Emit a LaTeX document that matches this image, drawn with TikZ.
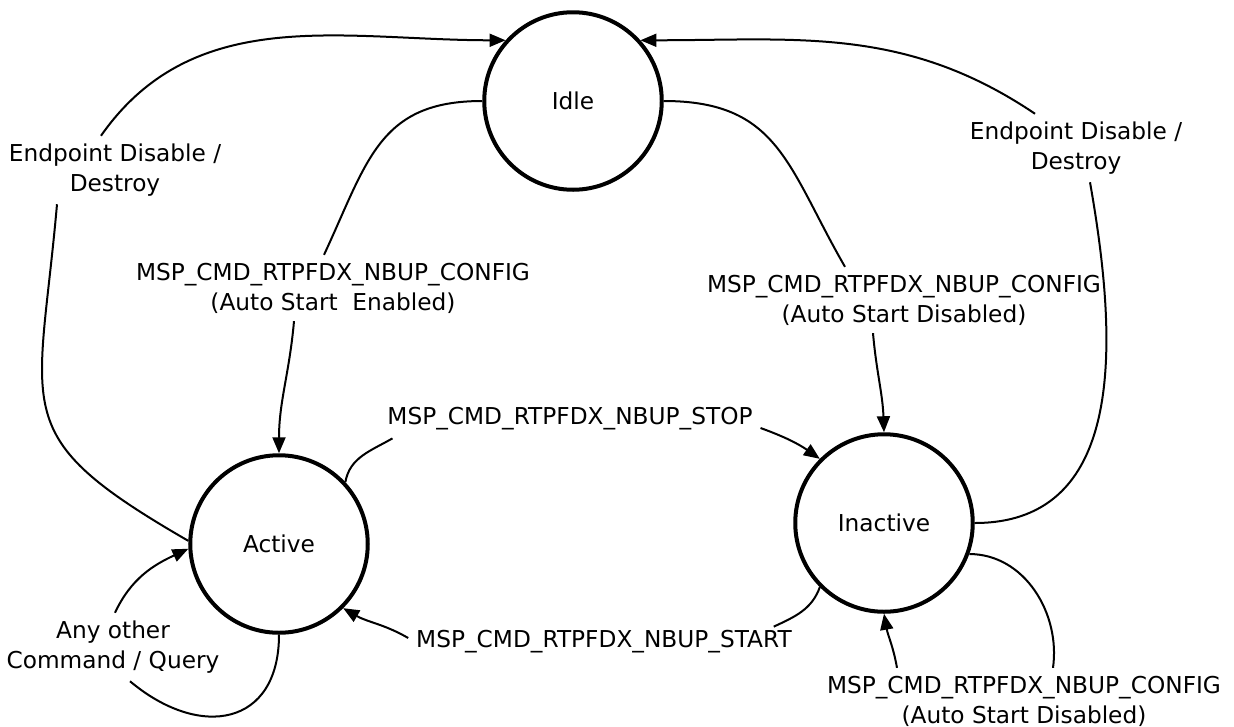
\documentclass[tikz,border=0pt]{standalone}
\usepackage{fontspec}
\setmainfont{DejaVu Sans}
\usepackage{tikz}
\usetikzlibrary{arrows.meta, calc}

\begin{document}
\begin{tikzpicture}[
    x=0.4pt, y=-0.4pt,
    state/.style={circle,draw,line width=1.6pt,minimum size=71pt,inner sep=0pt,font=\fontsize{9.3}{12}\selectfont},
    trans/.style={align=center,inner sep=3pt,font=\fontsize{9.3}{12}\selectfont},
    line/.style={line width=0.8pt},
    arr/.style={line width=0.8pt,-{Triangle[length=6.4pt,width=5.2pt]}},
  ]
    \useasboundingbox (0,0) rectangle (1234,727);

    \node[state] (idle) at (573,101) {Idle};
    \node[state] (active) at (279,544) {Active};
    \node[state] (inactive) at (884,523) {Inactive};

    \node[trans] (endl) at (115,170) {Endpoint Disable /\\Destroy};
    \node[trans] (endr) at (1076,148) {Endpoint Disable /\\Destroy};
    \node[trans] (cfgon) at (333,288) {MSP\_CMD\_RTPFDX\_NBUP\_CONFIG\\(Auto Start\ \ Enabled)};
    \node[trans] (cfgoff) at (904,300) {MSP\_CMD\_RTPFDX\_NBUP\_CONFIG\\(Auto Start Disabled)};
    \node[trans] (stop) at (570,419) {MSP\_CMD\_RTPFDX\_NBUP\_STOP};
    \node[trans] (start) at (604,642) {MSP\_CMD\_RTPFDX\_NBUP\_START};
    \node[trans] (anyq) at (113,647) {Any other\\Command / Query};
    \node[trans] (cfgself) at (1024,701) {MSP\_CMD\_RTPFDX\_NBUP\_CONFIG\\(Auto Start Disabled)};

    \draw[line] (idle.west) to[out=180,in=65,looseness=1.2] ($(cfgon.north)+(-9,0)$);
    \draw[arr] ($(cfgon.south)+(-39,0)$) to[out=-95,in=90] (active.north);

    \draw[line] (idle.east) to[out=0,in=120,looseness=1.2] ($(cfgoff.north)+(-59,0)$);
    \draw[arr] ($(cfgoff.south)+(-31,0)$) to[out=-85,in=92] (inactive.north);

    \draw[line] (inactive.east) to[out=0,in=-80,looseness=1.1] ($(endr.south)+(14,0)$);
    \draw[arr] ($(endr.north)+(-41,0)$) to[out=146,in=0] (idle.42);

    \draw[line] (active.178) to[out=150,in=-95,looseness=1.5] ($(endl.south)+(-58,0)$);
    \draw[arr] ($(endl.north)+(-14,0)$) to[out=55,in=180] (idle.138);

    \draw[line] (active.43) to[out=80,in=210] ($(stop.south west)+(13,0)$);
    \draw[arr] ($(stop.east)+(0,9)$) to[out=-20,in=145] (inactive.135);

    \draw[line] (inactive.225) to[out=-110,in=25] ($(start.north east)+(-26,4)$);
    \draw[arr] ($(start.west)+(0,-4)$) to[out=150,in=-30] (active.-45);

    \draw[line] (active.south) to[out=-90,in=-40,looseness=1.5] ($(anyq.south)+(17,0)$);
    \draw[arr] ($(anyq.north)+(2,0)$) to[out=65,in=205] (active.183);

    \draw[line] (inactive.-20) to[out=0,in=82] ($(cfgself.north)+(29,0)$);
    \draw[arr] ($(cfgself.north)+(-127,0)$) to[out=100,in=-80] (inactive.south);
\end{tikzpicture}
\end{document}
